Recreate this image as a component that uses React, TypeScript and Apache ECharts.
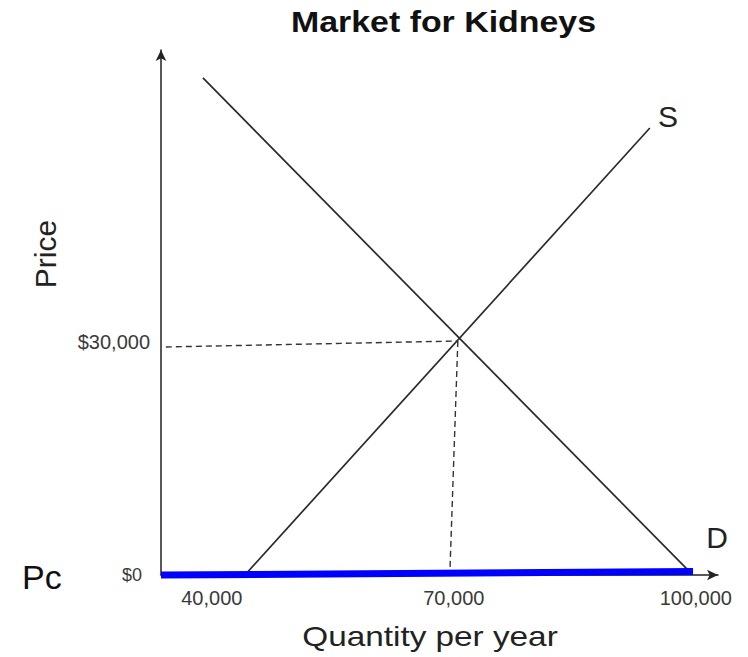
import React, { useEffect, useRef } from "react";
import * as echarts from "echarts";

// Quantity (x) and price (y) values
const xTicks = [40000, 70000, 100000];
const yTicks = [0, 30000];
const supplyQ = [44100, 94300];
const supplyP = [0, 57550];
const demandQ = [38900, 99250];
const demandP = [64000, 390];
const priceGuideQ = [34300, 70500];
const priceGuideP = [29360, 30130];
const qtyGuideQ = [70500, 69500];
const qtyGuideP = [30130, 0];
const pcQ = [33700, 99650];
const pcP = [0, 450];

const zip = (a: number[], b: number[]) => a.map((v, i) => [v, b[i]]);
const FONT = "'Liberation Sans', Arial, sans-serif";

export default function App() {
  const ref = useRef<HTMLDivElement>(null);
  useEffect(() => {
    if (!ref.current) return;
    const chart = echarts.init(ref.current, null, { renderer: "svg" });
    const lineBase = { type: "line", symbol: "none", showSymbol: false, clip: false, silent: true };
    chart.setOption({
      animation: false,
      backgroundColor: "#ffffff",
      grid: { left: 161, right: 30, top: 50, bottom: 82, containLabel: false },
      xAxis: {
        type: "value",
        min: 33700,
        max: 102750,
        axisLine: { show: true, symbol: ["none", "arrow"], symbolSize: [8, 11], lineStyle: { color: "#222", width: 1.5 } },
        axisTick: { show: false },
        splitLine: { show: false },
        axisLabel: {
          customValues: xTicks,
          margin: 13,
          fontSize: 20,
          fontFamily: FONT,
          color: "#3a3a3a",
          formatter: (v: number) => v.toLocaleString("en-US"),
        },
      },
      yAxis: {
        type: "value",
        min: 0,
        max: 67600,
        axisLine: { show: true, symbol: ["none", "arrow"], symbolSize: [8, 11], lineStyle: { color: "#222", width: 1.5 } },
        axisTick: { show: false },
        splitLine: { show: false },
        axisLabel: {
          customValues: yTicks,
          margin: 11,
          fontFamily: FONT,
          color: "#3a3a3a",
          formatter: (v: number) => (v === 0 ? "{b|$0}" : "{a|$" + v.toLocaleString("en-US") + "}"),
          rich: {
            a: { fontSize: 20, fontFamily: FONT, color: "#3a3a3a" },
            b: { fontSize: 18, fontFamily: FONT, color: "#3a3a3a", padding: [0, 8, 0, 0] },
          },
        },
      },
      series: [
        { ...lineBase, name: "Pc", data: zip(pcQ, pcP), lineStyle: { color: "#0000ff", width: 7 }, z: 5 },
        { ...lineBase, name: "Supply", data: zip(supplyQ, supplyP), lineStyle: { color: "#2a2a2a", width: 1.7 } },
        { ...lineBase, name: "Demand", data: zip(demandQ, demandP), lineStyle: { color: "#2a2a2a", width: 1.7 } },
        { ...lineBase, name: "PriceGuide", data: zip(priceGuideQ, priceGuideP), lineStyle: { color: "#333", width: 1.4, type: [6, 4] } },
        { ...lineBase, name: "QtyGuide", data: zip(qtyGuideQ, qtyGuideP), lineStyle: { color: "#333", width: 1.4, type: [6, 4] } },
      ],
      graphic: [
        {
          type: "text", x: 443.5, y: 22, scaleX: 1.13,
          style: { text: "Market for Kidneys", fontSize: 30, fontWeight: "bold", fontFamily: FONT, fill: "#111", textAlign: "center", textVerticalAlign: "middle" },
        },
        {
          type: "text", x: 430, y: 636, scaleX: 1.19,
          style: { text: "Quantity per year", fontSize: 28, fontFamily: FONT, fill: "#222", textAlign: "center", textVerticalAlign: "middle" },
        },
        {
          type: "text", x: 45, y: 254, rotation: Math.PI / 2,
          style: { text: "Price", fontSize: 30, fontFamily: FONT, fill: "#222", textAlign: "center", textVerticalAlign: "middle" },
        },
        {
          type: "text", x: 22, y: 577,
          style: { text: "Pc", fontSize: 34, fontFamily: FONT, fill: "#111", textAlign: "left", textVerticalAlign: "middle" },
        },
        {
          type: "text", x: 668, y: 116,
          style: { text: "S", fontSize: 30, fontFamily: FONT, fill: "#222", textAlign: "center", textVerticalAlign: "middle" },
        },
        {
          type: "text", x: 717, y: 537,
          style: { text: "D", fontSize: 30, fontFamily: FONT, fill: "#222", textAlign: "center", textVerticalAlign: "middle" },
        },
      ],
    });
    return () => chart.dispose();
  }, []);
  return <div ref={ref} style={{ position: "fixed", left: 0, top: 0, width: 748, height: 657 }} />;
}
